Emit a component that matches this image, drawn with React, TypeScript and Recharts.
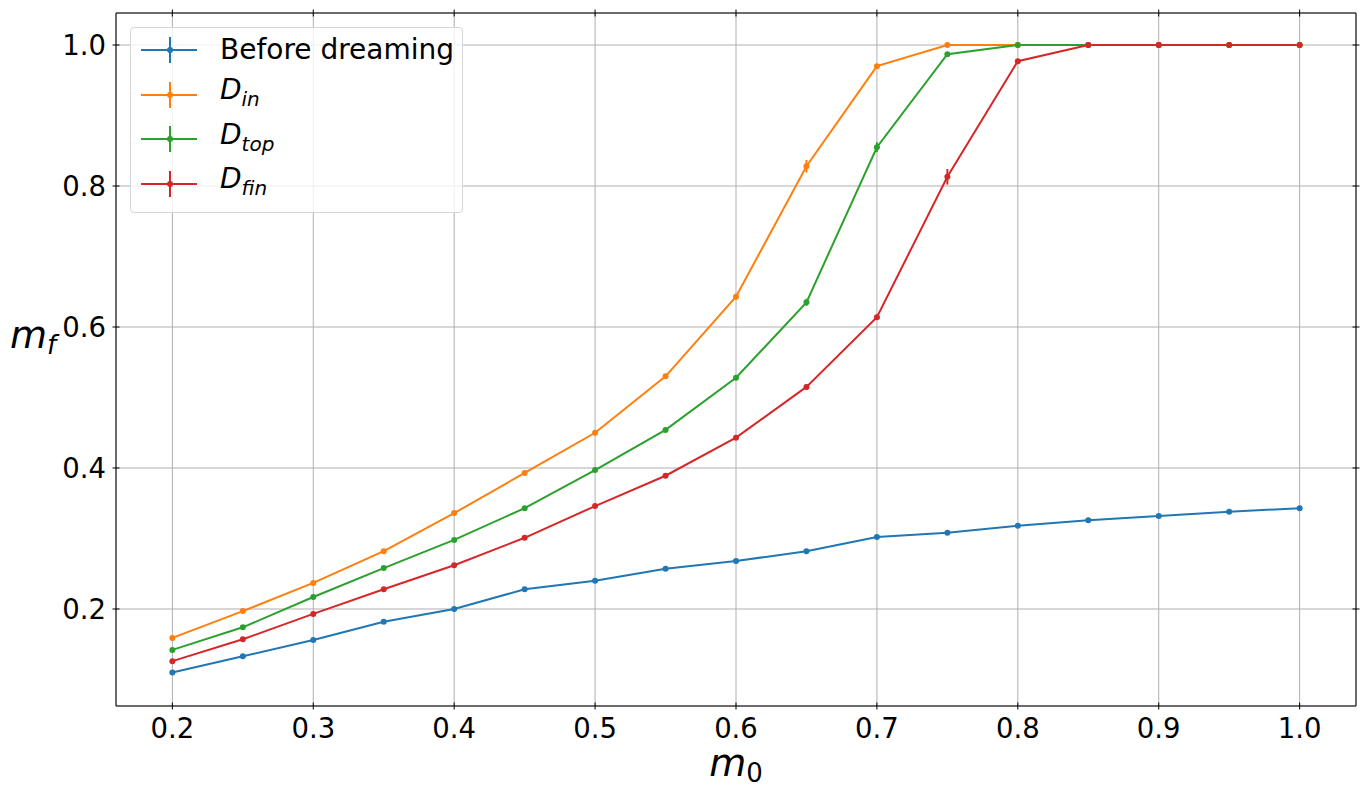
import { ComposedChart, Line, XAxis, YAxis, CartesianGrid, ErrorBar } from "recharts"

const m0 = [0.2, 0.25, 0.3, 0.35, 0.4, 0.45, 0.5, 0.55, 0.6, 0.65, 0.7, 0.75, 0.8, 0.85, 0.9, 0.95, 1.0]

const beforeDreaming = [0.11, 0.133, 0.156, 0.182, 0.2, 0.228, 0.24, 0.257, 0.268, 0.282, 0.302, 0.308, 0.318, 0.326, 0.332, 0.338, 0.343]
const dIn = [0.159, 0.197, 0.237, 0.282, 0.336, 0.393, 0.45, 0.53, 0.643, 0.828, 0.97, 1.0, 1.0, 1.0, 1.0, 1.0, 1.0]
const dTop = [0.142, 0.174, 0.217, 0.258, 0.298, 0.343, 0.397, 0.454, 0.528, 0.635, 0.855, 0.987, 1.0, 1.0, 1.0, 1.0, 1.0]
const dFin = [0.126, 0.157, 0.193, 0.228, 0.262, 0.301, 0.346, 0.389, 0.443, 0.515, 0.614, 0.813, 0.977, 1.0, 1.0, 1.0, 1.0]

const errBefore = [0.002, 0.002, 0.002, 0.002, 0.002, 0.002, 0.002, 0.002, 0.002, 0.002, 0.002, 0.002, 0.002, 0.002, 0.002, 0.002, 0.002]
const errIn = [0.002, 0.002, 0.002, 0.002, 0.002, 0.002, 0.002, 0.003, 0.004, 0.009, 0.003, 0, 0, 0, 0, 0, 0]
const errTop = [0.002, 0.002, 0.002, 0.002, 0.002, 0.002, 0.002, 0.002, 0.003, 0.005, 0.007, 0.002, 0, 0, 0, 0, 0]
const errFin = [0.002, 0.002, 0.002, 0.002, 0.002, 0.002, 0.002, 0.002, 0.003, 0.004, 0.004, 0.011, 0.002, 0, 0, 0, 0]

const xTicks = [0.2, 0.3, 0.4, 0.5, 0.6, 0.7, 0.8, 0.9, 1.0]
const yTicks = [0.2, 0.4, 0.6, 0.8, 1.0]

const series = [
  { key: "before", err: "errBefore", color: "#1f77b4", main: "Before dreaming", sub: "" },
  { key: "din", err: "errIn", color: "#ff7f0e", main: "D", sub: "in" },
  { key: "dtop", err: "errTop", color: "#2ca02c", main: "D", sub: "top" },
  { key: "dfin", err: "errFin", color: "#d62728", main: "D", sub: "fin" },
]

const data = m0.map((m, i) => ({
  m0: m,
  before: beforeDreaming[i],
  din: dIn[i],
  dtop: dTop[i],
  dfin: dFin[i],
  errBefore: errBefore[i],
  errIn: errIn[i],
  errTop: errTop[i],
  errFin: errFin[i],
}))

const FONT = "DejaVu Sans"
const X_DOMAIN = [0.16, 1.04]
const Y_DOMAIN = [0.0624, 1.0454]

const BottomTick = ({ x, y, payload }: any) => (
  <g>
    <line x1={x} x2={x} y1={y - 3.5} y2={y + 3.5} stroke="#000" strokeWidth={1} />
    <text x={x} y={y + 32} textAnchor="middle" fontSize={27.5} fontFamily={FONT} fill="#000">
      {Number(payload.value).toFixed(1)}
    </text>
  </g>
)

const LeftTick = ({ x, y, payload }: any) => (
  <g>
    <line x1={x - 3.5} x2={x + 3.5} y1={y} y2={y} stroke="#000" strokeWidth={1} />
    <text x={x - 10} y={y + 10} textAnchor="end" fontSize={27.5} fontFamily={FONT} fill="#000">
      {Number(payload.value).toFixed(1)}
    </text>
  </g>
)

const TopTick = ({ x, y }: any) => (
  <line x1={x} x2={x} y1={y - 3.5} y2={y + 3.5} stroke="#000" strokeWidth={1} />
)

const RightTick = ({ x, y }: any) => (
  <line x1={x - 3.5} x2={x + 3.5} y1={y} y2={y} stroke="#000" strokeWidth={1} />
)

export default function App() {
  return (
    <div style={{ position: "absolute", left: 0, top: 0, width: 1369, height: 794, background: "#fff", fontFamily: FONT }}>
      <ComposedChart width={1369} height={794} data={data} margin={{ top: 12, right: 12, left: 0, bottom: 0 }}>
        <CartesianGrid stroke="#b0b0b0" strokeWidth={1} />
        <XAxis
          dataKey="m0"
          type="number"
          domain={X_DOMAIN}
          ticks={xTicks}
          height={88}
          tickSize={0}
          tickMargin={0}
          tick={<BottomTick />}
          axisLine={{ stroke: "#000", strokeWidth: 1 }}
          interval={0}
          label={{
            content: ({ viewBox }: any) => (
              <text x={viewBox.x + viewBox.width / 2} y={viewBox.y + 70} textAnchor="middle" fontFamily={FONT} fill="#000">
                <tspan fontSize={38} fontStyle="italic">m</tspan>
                <tspan fontSize={26} dy={6}>0</tspan>
              </text>
            ),
          }}
        />
        <XAxis
          xAxisId="top"
          orientation="top"
          dataKey="m0"
          type="number"
          domain={X_DOMAIN}
          ticks={xTicks}
          height={1}
          tickSize={0}
          tickMargin={0}
          tick={<TopTick />}
          axisLine={{ stroke: "#000", strokeWidth: 1 }}
          interval={0}
        />
        <YAxis
          type="number"
          domain={Y_DOMAIN}
          ticks={yTicks}
          width={116}
          tickSize={0}
          tickMargin={0}
          tick={<LeftTick />}
          axisLine={{ stroke: "#000", strokeWidth: 1 }}
          interval={0}
          label={{
            content: ({ viewBox }: any) => (
              <text x={viewBox.x + 10} y={viewBox.y + 335} fontFamily={FONT} fill="#000">
                <tspan fontSize={38} fontStyle="italic">m</tspan>
                <tspan fontSize={26} fontStyle="italic" dy={6}>f</tspan>
              </text>
            ),
          }}
        />
        <YAxis
          yAxisId="right"
          orientation="right"
          type="number"
          domain={Y_DOMAIN}
          ticks={yTicks}
          width={1}
          tickSize={0}
          tickMargin={0}
          tick={<RightTick />}
          axisLine={{ stroke: "#000", strokeWidth: 1 }}
          interval={0}
        />
        {series.map((s) => (
          <Line
            key={s.key}
            type="linear"
            dataKey={s.key}
            stroke={s.color}
            strokeWidth={2}
            dot={{ r: 3, fill: s.color, stroke: s.color, strokeWidth: 0 }}
            activeDot={false}
            isAnimationActive={false}
          >
            <ErrorBar dataKey={s.err} direction="y" width={0} stroke={s.color} strokeWidth={2} isAnimationActive={false} />
          </Line>
        ))}
        <Line
          xAxisId="top"
          yAxisId="right"
          dataKey="before"
          stroke="none"
          dot={false}
          activeDot={false}
          legendType="none"
          isAnimationActive={false}
        />
      </ComposedChart>
      <div
        style={{
          position: "absolute",
          left: 130,
          top: 27,
          width: 331,
          height: 184,
          border: "1px solid #d6d6d6",
          borderRadius: 4,
          background: "rgba(255,255,255,0.8)",
        }}
      >
        {series.map((s, i) => (
          <div key={s.key} style={{ position: "absolute", left: 0, top: 2 + i * 44.5, height: 40, display: "flex", alignItems: "center" }}>
            <svg width={89} height={40} style={{ display: "block" }}>
              <line x1={10} x2={66} y1={20} y2={20} stroke={s.color} strokeWidth={2} />
              <line x1={39} x2={39} y1={7} y2={33} stroke={s.color} strokeWidth={2} />
              <circle cx={39} cy={20} r={3} fill={s.color} />
            </svg>
            <span style={{ fontSize: 28, color: "#000", whiteSpace: "nowrap", lineHeight: "40px" }}>
              {s.sub ? (
                <>
                  <i>{s.main}</i>
                  <sub style={{ fontSize: 20, fontStyle: "italic", verticalAlign: "-7px" }}>{s.sub}</sub>
                </>
              ) : (
                s.main
              )}
            </span>
          </div>
        ))}
      </div>
    </div>
  )
}
